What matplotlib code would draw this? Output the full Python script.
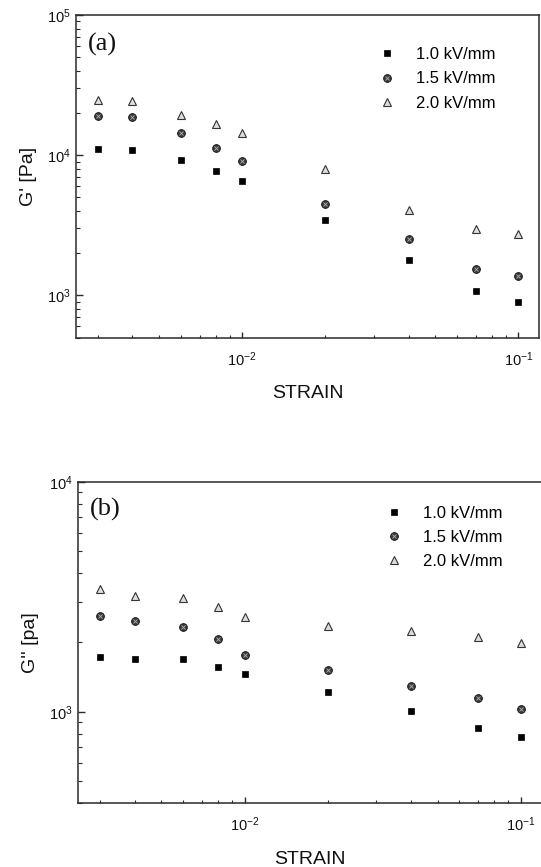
import matplotlib
matplotlib.use("Agg")
import matplotlib.pyplot as plt
from matplotlib.ticker import LogLocator, NullFormatter, LogFormatterSciNotation
from matplotlib.legend_handler import HandlerTuple

plt.rcParams['font.family'] = ['Liberation Sans', 'DejaVu Sans']
plt.rcParams['mathtext.fontset'] = 'custom'
plt.rcParams['mathtext.rm'] = 'Liberation Sans'
plt.rcParams['mathtext.it'] = 'Liberation Sans'
plt.rcParams['mathtext.bf'] = 'Liberation Sans'

# ---- data ----
strain = [0.003, 0.004, 0.006, 0.008, 0.01, 0.02, 0.04, 0.07, 0.1]
labels = ['1.0 kV/mm', '1.5 kV/mm', '2.0 kV/mm']

Gp_10 = [11150, 10850, 9310, 7690, 6490, 3450, 1790, 1070, 896]
Gp_15 = [19100, 18570, 14440, 11280, 9160, 4470, 2510, 1550, 1380]
Gp_20 = [24560, 24150, 19500, 16650, 14290, 8030, 4030, 2990, 2755]

Gpp_10 = [1722, 1698, 1693, 1567, 1452, 1217, 1007, 847, 778]
Gpp_15 = [2600, 2476, 2346, 2066, 1773, 1520, 1288, 1143, 1030]
Gpp_20 = [3420, 3198, 3135, 2864, 2583, 2362, 2254, 2109, 1994]

panels = [
    dict(series=[Gp_10, Gp_15, Gp_20], ylabel="G' [Pa]", tag='(a)', tag_y=0.909, ylim=(500, 1e5),
         rect=[0.1405, 0.6107, 0.8564, 0.372], leg=(0.653, 0.90)),
    dict(series=[Gpp_10, Gpp_15, Gpp_20], ylabel="G'' [pa]", tag='(b)', tag_y=0.915, ylim=(400, 1e4),
         rect=[0.1447, 0.0735, 0.8564, 0.3709], leg=(0.664, 0.925)),
]

fig = plt.figure(figsize=(5.41, 8.67), dpi=100)
spine_c = '#2a2a2a'

for p in panels:
    ax = fig.add_axes(p['rect'])
    ax.set_xscale('log')
    ax.set_yscale('log')
    s10, s15, s20 = p['series']
    h1, = ax.plot(strain, s10, ls='none', marker='s', ms=4.8, mfc='black', mec='black', mew=0.5)
    h2a, = ax.plot(strain, s15, ls='none', marker='o', ms=5.6, mfc='#3a3a3a', mec='#111111', mew=0.6)
    h2b, = ax.plot(strain, s15, ls='none', marker='x', ms=2.6, mec='#b0b0b0', mew=0.6)
    h3, = ax.plot(strain, s20, ls='none', marker='^', ms=5.9, mfc='#dddddd', mec='#333333', mew=0.8)
    ax.set_xlim(0.0025, 0.119)
    ax.set_ylim(*p['ylim'])

    for sp in ax.spines.values():
        sp.set_color(spine_c)
        sp.set_linewidth(1.1)

    ax.xaxis.set_major_locator(LogLocator(base=10))
    ax.xaxis.set_minor_locator(LogLocator(base=10, subs=range(2, 10)))
    ax.yaxis.set_major_locator(LogLocator(base=10))
    ax.yaxis.set_minor_locator(LogLocator(base=10, subs=range(2, 10)))
    ax.xaxis.set_major_formatter(LogFormatterSciNotation())
    ax.yaxis.set_major_formatter(LogFormatterSciNotation())
    ax.xaxis.set_minor_formatter(NullFormatter())
    ax.yaxis.set_minor_formatter(NullFormatter())

    ax.tick_params(which='both', direction='in', top=False, right=False, colors=spine_c,
                   labelcolor='#111111')
    ax.tick_params(axis='x', which='major', length=4.3, width=1.0, pad=9, labelsize=10.5)
    ax.tick_params(axis='x', which='minor', length=2.4, width=0.8)
    ax.tick_params(axis='y', which='major', length=4.8, width=1.0, pad=4, labelsize=10.5)
    ax.tick_params(axis='y', which='minor', length=3.2, width=0.8)

    ax.set_xlabel('STRAIN', fontsize=14, labelpad=12, color='#111111')
    ax.set_ylabel(p['ylabel'], fontsize=14, labelpad=7, color='#111111')

    ax.text(0.026, p['tag_y'], p['tag'], transform=ax.transAxes, fontsize=19,
            family=['Liberation Serif', 'DejaVu Serif'], va='center', ha='left', color='#111111')

    ax.legend([h1, (h2a, h2b), h3], labels, loc='upper left', bbox_to_anchor=p['leg'],
              frameon=False, fontsize=12, borderpad=0, handlelength=1.0, handletextpad=1.25,
              labelspacing=0.55, borderaxespad=0,
              handler_map={tuple: HandlerTuple(ndivide=1, pad=0)})

fig.savefig('out.png', dpi=100)
